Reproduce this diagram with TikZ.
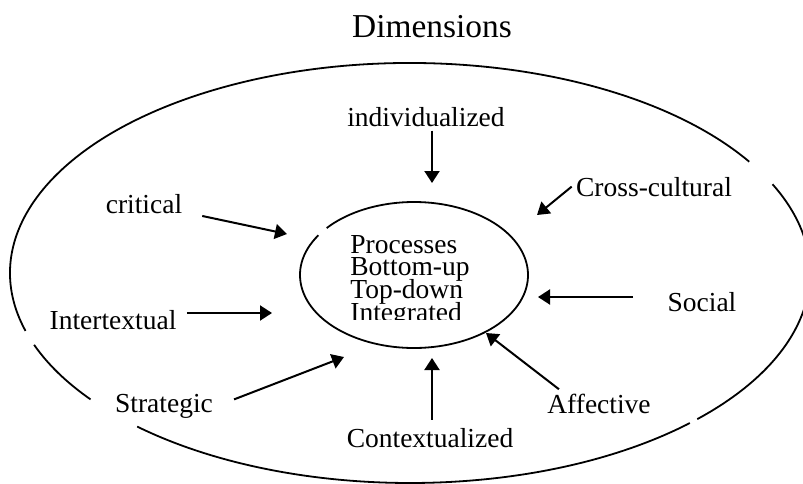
\documentclass[tikz,border=0pt]{standalone}
\usepackage{fontspec}
\setmainfont{Liberation Serif}
\usetikzlibrary{arrows.meta}

\begin{document}
\begin{tikzpicture}[x=0.5pt, y=0.5pt,
    lbl/.style={font=\fontsize{13.75}{16}\selectfont, inner sep=2pt, anchor=base},
    proc/.style={font=\fontsize{13.75}{16}\selectfont, inner sep=0pt, text height=8.4pt, text depth=2.6pt, anchor=base west},
    arr/.style={-{Triangle[length=6pt,width=7.5pt]}, line width=1pt},
    rim/.style={line width=0.9pt}]
    \useasboundingbox (0,0) rectangle (803,483);
    \clip (0,0) rectangle (803,483);

    \node [font=\fontsize{16.7}{20}\selectfont, anchor=base] (title) at (432,445) {Dimensions};

    % outer ring, drawn in pieces
    \coordinate (outC) at (410,210);
    \draw [rim] (outC) ++(32:200pt and 105pt) arc[start angle=32, end angle=196, x radius=200pt, y radius=105pt];
    \draw [rim] (outC) ++(200:200pt and 105pt) arc[start angle=200, end angle=217, x radius=200pt, y radius=105pt];
    \draw [rim] (outC) ++(227:200pt and 105pt) arc[start angle=227, end angle=314.4, x radius=200pt, y radius=105pt];
    \draw [rim] (outC) ++(315.9:200pt and 105pt) arc[start angle=315.9, end angle=385, x radius=200pt, y radius=105pt];

    % inner ring
    \coordinate (inC) at (414,208);
    \draw [rim] (inC) ++(147:57pt and 36.5pt) arc[start angle=147, end angle=500, x radius=57pt, y radius=36.5pt];

    \begin{scope}
        \clip (300,164) rectangle (540,270);
        \node [proc] (proc1) at (350,230) {Processes};
        \node [proc] (proc2) at (350,207.3) {Bottom-up};
        \node [proc] (proc3) at (350,184.6) {Top-down};
        \node [proc] (proc4) at (350,161.9) {Integrated};
    \end{scope}

    % labels
    \node [lbl] (indiv)   at (426,357) {individualized};
    \node [lbl] (critical) at (144,270) {critical};
    \node [lbl] (cross)   at (654,287) {Cross-cultural};
    \node [lbl] (inter)   at (113,154) {Intertextual};
    \node [lbl] (social)  at (702,172) {Social};
    \node [lbl] (strat)   at (164,71) {Strategic};
    \node [lbl] (affect)  at (599,70) {Affective};
    \node [lbl] (context) at (430,36) {Contextualized};

    % arrow tips
    \coordinate (tipIndiv) at (432,300);
    \coordinate (tipCrit)  at (287,249);
    \coordinate (tipCross) at (537,268);
    \coordinate (tipInter) at (272,170);
    \coordinate (tipSoc)   at (538,186);
    \coordinate (tipStrat) at (344,126);
    \coordinate (tipAff)   at (486,150);
    \coordinate (tipCont)  at (432,125);

    \draw [arr] (indiv.south -| tipIndiv) -- (tipIndiv);
    \draw [arr, shorten <=8pt] (critical) -- (tipCrit);
    \draw [arr] (cross.west) -- (tipCross);
    \draw [arr, shorten <=3pt] (inter.east |- tipInter) -- (tipInter);
    \draw [arr, shorten <=15pt] (social.west |- tipSoc) -- (tipSoc);
    \draw [arr, shorten <=9pt] (strat.east) -- (tipStrat);
    \draw [arr] ([xshift=8pt]affect.north west) -- (tipAff);
    \draw [arr, shorten <=2pt] (context.north -| tipCont) -- (tipCont);
\end{tikzpicture}
\end{document}
